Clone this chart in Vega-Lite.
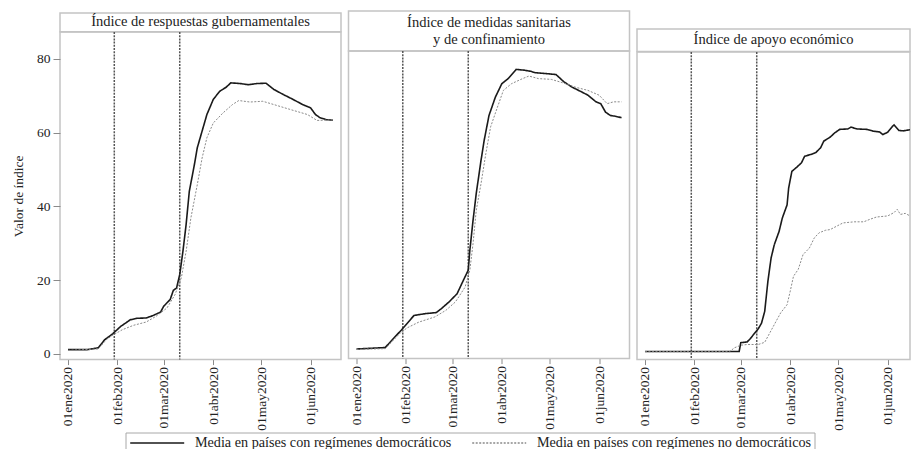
{
  "$schema": "https://vega.github.io/schema/vega-lite/v6.json",
  "background": "white",
  "padding": {"left": 10, "top": 10, "right": 0, "bottom": 0},
  "config": {
    "font": "Liberation Serif",
    "view": {"stroke": "#c4c4c4", "strokeWidth": 1.5},
    "axis": {"labelFont": "Liberation Serif", "titleFont": "Liberation Serif", "labelFontSize": 13.5, "titleFontSize": 13.5, "titleFontWeight": "normal", "labelColor": "#222", "titleColor": "#222", "tickColor": "#8a8a8a", "domain": false, "grid": false},
    "legend": {"orient": "none", "legendX": 65.5, "legendY": 421.5, "direction": "horizontal", "columns": 2, "symbolType": "M-5,0H5", "symbolSize": 116.6, "symbolOffset": 21.6, "symbolStrokeWidth": 1.6, "labelFont": "Liberation Serif", "labelFontSize": 14.2, "labelColor": "#222", "labelLimit": 0, "labelOffset": 30.6, "strokeColor": "#a8a8a8", "padding": 3, "columnPadding": 17}
  },
  "datasets": {
    "lines": [
      {"p":"A","s":"D","d":"2020-01-01","v":1.1},{"p":"A","s":"D","d":"2020-01-13","v":1.1},{"p":"A","s":"D","d":"2020-01-20","v":1.6},{"p":"A","s":"D","d":"2020-01-24","v":3.8},{"p":"A","s":"D","d":"2020-01-29","v":5.4},{"p":"A","s":"D","d":"2020-02-03","v":7.4},{"p":"A","s":"D","d":"2020-02-09","v":9.2},{"p":"A","s":"D","d":"2020-02-13","v":9.6},{"p":"A","s":"D","d":"2020-02-19","v":9.7},{"p":"A","s":"D","d":"2020-02-23","v":10.3},{"p":"A","s":"D","d":"2020-02-28","v":11.3},{"p":"A","s":"D","d":"2020-03-01","v":12.9},{"p":"A","s":"D","d":"2020-03-05","v":14.7},{"p":"A","s":"D","d":"2020-03-07","v":17.2},{"p":"A","s":"D","d":"2020-03-09","v":17.8},{"p":"A","s":"D","d":"2020-03-11","v":21.5},{"p":"A","s":"D","d":"2020-03-13","v":27.8},{"p":"A","s":"D","d":"2020-03-15","v":35.1},{"p":"A","s":"D","d":"2020-03-17","v":44.1},{"p":"A","s":"D","d":"2020-03-20","v":50.9},{"p":"A","s":"D","d":"2020-03-22","v":55.9},{"p":"A","s":"D","d":"2020-03-25","v":60.4},{"p":"A","s":"D","d":"2020-03-28","v":64.9},{"p":"A","s":"D","d":"2020-04-01","v":69.0},{"p":"A","s":"D","d":"2020-04-05","v":71.2},{"p":"A","s":"D","d":"2020-04-09","v":72.3},{"p":"A","s":"D","d":"2020-04-12","v":73.5},{"p":"A","s":"D","d":"2020-04-18","v":73.3},{"p":"A","s":"D","d":"2020-04-23","v":73.0},{"p":"A","s":"D","d":"2020-04-28","v":73.3},{"p":"A","s":"D","d":"2020-05-04","v":73.4},{"p":"A","s":"D","d":"2020-05-09","v":71.7},{"p":"A","s":"D","d":"2020-05-15","v":70.3},{"p":"A","s":"D","d":"2020-05-21","v":69.0},{"p":"A","s":"D","d":"2020-05-27","v":67.6},{"p":"A","s":"D","d":"2020-06-01","v":66.7},{"p":"A","s":"D","d":"2020-06-04","v":64.9},{"p":"A","s":"D","d":"2020-06-07","v":64.0},{"p":"A","s":"D","d":"2020-06-11","v":63.5},{"p":"A","s":"D","d":"2020-06-15","v":63.4},
      {"p":"A","s":"N","d":"2020-01-01","v":0.9},{"p":"A","s":"N","d":"2020-01-20","v":1.3},{"p":"A","s":"N","d":"2020-01-25","v":3.8},{"p":"A","s":"N","d":"2020-01-29","v":5.0},{"p":"A","s":"N","d":"2020-02-04","v":6.5},{"p":"A","s":"N","d":"2020-02-11","v":7.7},{"p":"A","s":"N","d":"2020-02-19","v":8.6},{"p":"A","s":"N","d":"2020-02-25","v":10.1},{"p":"A","s":"N","d":"2020-03-03","v":12.4},{"p":"A","s":"N","d":"2020-03-08","v":16.0},{"p":"A","s":"N","d":"2020-03-12","v":20.6},{"p":"A","s":"N","d":"2020-03-15","v":27.8},{"p":"A","s":"N","d":"2020-03-18","v":36.9},{"p":"A","s":"N","d":"2020-03-22","v":45.9},{"p":"A","s":"N","d":"2020-03-25","v":53.1},{"p":"A","s":"N","d":"2020-03-28","v":58.6},{"p":"A","s":"N","d":"2020-04-01","v":62.6},{"p":"A","s":"N","d":"2020-04-07","v":65.3},{"p":"A","s":"N","d":"2020-04-13","v":67.6},{"p":"A","s":"N","d":"2020-04-17","v":68.7},{"p":"A","s":"N","d":"2020-04-24","v":68.3},{"p":"A","s":"N","d":"2020-05-02","v":68.5},{"p":"A","s":"N","d":"2020-05-09","v":67.6},{"p":"A","s":"N","d":"2020-05-19","v":66.3},{"p":"A","s":"N","d":"2020-05-30","v":64.9},{"p":"A","s":"N","d":"2020-06-05","v":63.3},{"p":"A","s":"N","d":"2020-06-11","v":63.4},{"p":"A","s":"N","d":"2020-06-15","v":63.5},
      {"p":"B","s":"D","d":"2020-01-01","v":1.0},{"p":"B","s":"D","d":"2020-01-19","v":1.4},{"p":"B","s":"D","d":"2020-01-24","v":3.8},{"p":"B","s":"D","d":"2020-01-29","v":6.1},{"p":"B","s":"D","d":"2020-02-01","v":7.6},{"p":"B","s":"D","d":"2020-02-06","v":10.1},{"p":"B","s":"D","d":"2020-02-13","v":10.6},{"p":"B","s":"D","d":"2020-02-20","v":10.9},{"p":"B","s":"D","d":"2020-02-23","v":11.9},{"p":"B","s":"D","d":"2020-02-28","v":13.8},{"p":"B","s":"D","d":"2020-03-04","v":16.0},{"p":"B","s":"D","d":"2020-03-08","v":19.7},{"p":"B","s":"D","d":"2020-03-11","v":22.4},{"p":"B","s":"D","d":"2020-03-12","v":27.8},{"p":"B","s":"D","d":"2020-03-14","v":35.9},{"p":"B","s":"D","d":"2020-03-16","v":43.2},{"p":"B","s":"D","d":"2020-03-19","v":52.2},{"p":"B","s":"D","d":"2020-03-21","v":57.7},{"p":"B","s":"D","d":"2020-03-24","v":64.4},{"p":"B","s":"D","d":"2020-03-28","v":69.4},{"p":"B","s":"D","d":"2020-04-01","v":73.0},{"p":"B","s":"D","d":"2020-04-05","v":74.4},{"p":"B","s":"D","d":"2020-04-10","v":76.9},{"p":"B","s":"D","d":"2020-04-15","v":76.7},{"p":"B","s":"D","d":"2020-04-19","v":76.4},{"p":"B","s":"D","d":"2020-04-22","v":76.0},{"p":"B","s":"D","d":"2020-04-28","v":75.8},{"p":"B","s":"D","d":"2020-05-05","v":75.5},{"p":"B","s":"D","d":"2020-05-10","v":73.5},{"p":"B","s":"D","d":"2020-05-15","v":72.1},{"p":"B","s":"D","d":"2020-05-21","v":70.8},{"p":"B","s":"D","d":"2020-05-25","v":69.9},{"p":"B","s":"D","d":"2020-05-30","v":68.1},{"p":"B","s":"D","d":"2020-06-02","v":67.6},{"p":"B","s":"D","d":"2020-06-05","v":65.3},{"p":"B","s":"D","d":"2020-06-08","v":64.4},{"p":"B","s":"D","d":"2020-06-11","v":64.2},{"p":"B","s":"D","d":"2020-06-15","v":63.8},
      {"p":"B","s":"N","d":"2020-01-01","v":0.9},{"p":"B","s":"N","d":"2020-01-19","v":1.1},{"p":"B","s":"N","d":"2020-01-29","v":5.6},{"p":"B","s":"N","d":"2020-02-02","v":6.8},{"p":"B","s":"N","d":"2020-02-09","v":8.3},{"p":"B","s":"N","d":"2020-02-19","v":9.7},{"p":"B","s":"N","d":"2020-02-26","v":11.5},{"p":"B","s":"N","d":"2020-03-03","v":13.8},{"p":"B","s":"N","d":"2020-03-09","v":17.8},{"p":"B","s":"N","d":"2020-03-12","v":22.4},{"p":"B","s":"N","d":"2020-03-14","v":29.6},{"p":"B","s":"N","d":"2020-03-16","v":38.6},{"p":"B","s":"N","d":"2020-03-19","v":45.9},{"p":"B","s":"N","d":"2020-03-22","v":54.0},{"p":"B","s":"N","d":"2020-03-25","v":61.3},{"p":"B","s":"N","d":"2020-03-29","v":66.3},{"p":"B","s":"N","d":"2020-04-02","v":71.2},{"p":"B","s":"N","d":"2020-04-07","v":73.0},{"p":"B","s":"N","d":"2020-04-14","v":74.4},{"p":"B","s":"N","d":"2020-04-18","v":75.1},{"p":"B","s":"N","d":"2020-04-24","v":74.4},{"p":"B","s":"N","d":"2020-05-02","v":74.2},{"p":"B","s":"N","d":"2020-05-09","v":73.3},{"p":"B","s":"N","d":"2020-05-17","v":72.1},{"p":"B","s":"N","d":"2020-05-25","v":71.2},{"p":"B","s":"N","d":"2020-06-01","v":69.9},{"p":"B","s":"N","d":"2020-06-06","v":67.6},{"p":"B","s":"N","d":"2020-06-10","v":68.1},{"p":"B","s":"N","d":"2020-06-15","v":68.1},
      {"p":"C","s":"D","d":"2020-01-01","v":0.6},{"p":"C","s":"D","d":"2020-02-29","v":0.6},{"p":"C","s":"D","d":"2020-03-01","v":3.0},{"p":"C","s":"D","d":"2020-03-05","v":3.2},{"p":"C","s":"D","d":"2020-03-07","v":4.1},{"p":"C","s":"D","d":"2020-03-09","v":5.2},{"p":"C","s":"D","d":"2020-03-12","v":6.8},{"p":"C","s":"D","d":"2020-03-14","v":8.3},{"p":"C","s":"D","d":"2020-03-16","v":11.5},{"p":"C","s":"D","d":"2020-03-18","v":19.7},{"p":"C","s":"D","d":"2020-03-20","v":26.0},{"p":"C","s":"D","d":"2020-03-22","v":29.6},{"p":"C","s":"D","d":"2020-03-25","v":33.2},{"p":"C","s":"D","d":"2020-03-27","v":36.8},{"p":"C","s":"D","d":"2020-03-30","v":40.4},{"p":"C","s":"D","d":"2020-03-31","v":45.0},{"p":"C","s":"D","d":"2020-04-02","v":49.5},{"p":"C","s":"D","d":"2020-04-05","v":50.6},{"p":"C","s":"D","d":"2020-04-08","v":51.8},{"p":"C","s":"D","d":"2020-04-10","v":53.6},{"p":"C","s":"D","d":"2020-04-14","v":54.1},{"p":"C","s":"D","d":"2020-04-17","v":54.6},{"p":"C","s":"D","d":"2020-04-20","v":55.9},{"p":"C","s":"D","d":"2020-04-22","v":57.7},{"p":"C","s":"D","d":"2020-04-26","v":58.8},{"p":"C","s":"D","d":"2020-04-29","v":60.0},{"p":"C","s":"D","d":"2020-05-02","v":60.9},{"p":"C","s":"D","d":"2020-05-07","v":61.0},{"p":"C","s":"D","d":"2020-05-09","v":61.5},{"p":"C","s":"D","d":"2020-05-13","v":61.0},{"p":"C","s":"D","d":"2020-05-19","v":60.9},{"p":"C","s":"D","d":"2020-05-23","v":60.4},{"p":"C","s":"D","d":"2020-05-27","v":60.2},{"p":"C","s":"D","d":"2020-05-29","v":59.5},{"p":"C","s":"D","d":"2020-06-01","v":60.1},{"p":"C","s":"D","d":"2020-06-04","v":61.7},{"p":"C","s":"D","d":"2020-06-05","v":62.1},{"p":"C","s":"D","d":"2020-06-08","v":60.6},{"p":"C","s":"D","d":"2020-06-11","v":60.5},{"p":"C","s":"D","d":"2020-06-15","v":60.8},
      {"p":"C","s":"N","d":"2020-01-01","v":0.55},{"p":"C","s":"N","d":"2020-02-23","v":0.55},{"p":"C","s":"N","d":"2020-02-26","v":1.6},{"p":"C","s":"N","d":"2020-03-01","v":2.3},{"p":"C","s":"N","d":"2020-03-05","v":2.5},{"p":"C","s":"N","d":"2020-03-12","v":2.5},{"p":"C","s":"N","d":"2020-03-16","v":3.1},{"p":"C","s":"N","d":"2020-03-18","v":4.7},{"p":"C","s":"N","d":"2020-03-22","v":7.9},{"p":"C","s":"N","d":"2020-03-26","v":11.1},{"p":"C","s":"N","d":"2020-03-30","v":13.3},{"p":"C","s":"N","d":"2020-04-01","v":17.0},{"p":"C","s":"N","d":"2020-04-03","v":21.0},{"p":"C","s":"N","d":"2020-04-06","v":22.9},{"p":"C","s":"N","d":"2020-04-09","v":26.9},{"p":"C","s":"N","d":"2020-04-13","v":28.7},{"p":"C","s":"N","d":"2020-04-16","v":31.4},{"p":"C","s":"N","d":"2020-04-19","v":32.8},{"p":"C","s":"N","d":"2020-04-23","v":33.5},{"p":"C","s":"N","d":"2020-04-26","v":33.7},{"p":"C","s":"N","d":"2020-04-30","v":34.6},{"p":"C","s":"N","d":"2020-05-04","v":35.5},{"p":"C","s":"N","d":"2020-05-11","v":35.8},{"p":"C","s":"N","d":"2020-05-17","v":35.8},{"p":"C","s":"N","d":"2020-05-21","v":36.5},{"p":"C","s":"N","d":"2020-05-25","v":37.1},{"p":"C","s":"N","d":"2020-06-01","v":37.4},{"p":"C","s":"N","d":"2020-06-05","v":38.3},{"p":"C","s":"N","d":"2020-06-07","v":39.2},{"p":"C","s":"N","d":"2020-06-09","v":37.8},{"p":"C","s":"N","d":"2020-06-12","v":38.1},{"p":"C","s":"N","d":"2020-06-15","v":37.4}
    ],
    "ev": [{"d": "2020-01-30"}, {"d": "2020-03-11"}]
  },
  "spacing": 5.5,
  "hconcat": [
    {
      "spacing": 0,
      "bounds": "flush",
      "vconcat": [
        {"width": 281, "height": 1.3, "data": {"values": []}, "mark": {"type": "text", "text": ""}, "encoding": {}, "view": {"stroke": null}},
        {"width": 281, "height": 18.7, "view": {"stroke": "#c4c4c4", "strokeWidth": 1.5}, "data": {"values": [{"t": "Índice de respuestas gubernamentales", "x": 0.5, "y": 0.5}]}, "mark": {"type": "text", "font": "Liberation Serif", "fontSize": 14.5, "color": "#222"}, "encoding": {"text": {"field": "t"}, "x": {"field": "x", "type": "quantitative", "scale": {"domain": [0, 1]}, "axis": null}, "y": {"field": "y", "type": "quantitative", "scale": {"domain": [0, 1]}, "axis": null}}},
        {
          "width": 281, "height": 327.6,
          "layer": [
            {"data": {"name": "ev"}, "mark": {"type": "rule", "color": "#555", "strokeWidth": 1.5, "strokeDash": [2, 1.2]}, "encoding": {"x": {"field": "d", "type": "temporal"}}},
            {
              "data": {"name": "lines"}, "transform": [{"filter": "datum.p == 'A'"}],
              "mark": {"type": "line", "clip": true},
              "encoding": {
                "x": {"field": "d", "type": "temporal", "scale": {"type": "utc", "domain": [{"year": 2019, "month": 12, "date": 27, "utc": true}, {"year": 2020, "month": 6, "date": 20, "utc": true}]},
                  "axis": {"title": null, "values": [{"year": 2020, "month": 1, "date": 1, "utc": true}, {"year": 2020, "month": 2, "date": 1, "utc": true}, {"year": 2020, "month": 3, "date": 1, "utc": true}, {"year": 2020, "month": 4, "date": 1, "utc": true}, {"year": 2020, "month": 5, "date": 1, "utc": true}, {"year": 2020, "month": 6, "date": 1, "utc": true}], "labelAngle": -90, "labelAlign": "right", "labelBaseline": "middle", "tickSize": 5, "labelPadding": 2, "labelExpr": "'01' + ['ene','feb','mar','abr','may','jun'][utcmonth(datum.value)] + '2020'"}},
                "y": {"field": "v", "type": "quantitative", "scale": {"domain": [-1.6, 87.3], "nice": false, "zero": false}, "axis": {"title": "Valor de índice", "values": [0, 20, 40, 60, 80], "tickSize": 7, "labelPadding": 3, "titlePadding": 11}},
                "color": {"field": "s", "type": "nominal", "scale": {"domain": ["D", "N"], "range": ["#1a1a1a", "#8a8a8a"]}, "legend": {"title": null, "labelExpr": "datum.label == 'D' ? 'Media en países con regímenes democráticos' : 'Media en países con regímenes no democráticos'"}},
                "strokeDash": {"field": "s", "type": "nominal", "scale": {"domain": ["D", "N"], "range": [[1, 0], [2, 1.5]]}, "legend": {"title": null, "labelExpr": "datum.label == 'D' ? 'Media en países con regímenes democráticos' : 'Media en países con regímenes no democráticos'"}},
                "strokeWidth": {"condition": {"test": "datum.s == 'D'", "value": 1.6}, "value": 1}
              }
            }
          ]
        }
      ]
    },
    {
      "spacing": 0,
      "bounds": "flush",
      "vconcat": [
        {"width": 281, "height": 40, "view": {"stroke": "#c4c4c4", "strokeWidth": 1.5}, "data": {"values": [{"t": "Índice de medidas sanitarias\ny de confinamiento", "x": 0.5, "y": 0.5}]}, "mark": {"type": "text", "font": "Liberation Serif", "fontSize": 14.5, "color": "#222", "lineBreak": "\n", "lineHeight": 17, "dy": -8.5}, "encoding": {"text": {"field": "t"}, "x": {"field": "x", "type": "quantitative", "scale": {"domain": [0, 1]}, "axis": null}, "y": {"field": "y", "type": "quantitative", "scale": {"domain": [0, 1]}, "axis": null}}},
        {
          "width": 281, "height": 307.6,
          "layer": [
            {"data": {"name": "ev"}, "mark": {"type": "rule", "color": "#555", "strokeWidth": 1.5, "strokeDash": [2, 1.2]}, "encoding": {"x": {"field": "d", "type": "temporal"}}},
            {
              "data": {"name": "lines"}, "transform": [{"filter": "datum.p == 'B'"}],
              "mark": {"type": "line", "clip": true},
              "encoding": {
                "x": {"field": "d", "type": "temporal", "scale": {"type": "utc", "domain": [{"year": 2019, "month": 12, "date": 27, "utc": true}, {"year": 2020, "month": 6, "date": 20, "utc": true}]},
                  "axis": {"title": null, "values": [{"year": 2020, "month": 1, "date": 1, "utc": true}, {"year": 2020, "month": 2, "date": 1, "utc": true}, {"year": 2020, "month": 3, "date": 1, "utc": true}, {"year": 2020, "month": 4, "date": 1, "utc": true}, {"year": 2020, "month": 5, "date": 1, "utc": true}, {"year": 2020, "month": 6, "date": 1, "utc": true}], "labelAngle": -90, "labelAlign": "right", "labelBaseline": "middle", "tickSize": 5, "labelPadding": 2, "labelExpr": "'01' + ['ene','feb','mar','abr','may','jun'][utcmonth(datum.value)] + '2020'"}},
                "y": {"field": "v", "type": "quantitative", "scale": {"domain": [-1.6, 81.9], "nice": false, "zero": false}, "axis": null},
                "color": {"field": "s", "type": "nominal", "scale": {"domain": ["D", "N"], "range": ["#1a1a1a", "#8a8a8a"]}, "legend": {"title": null, "labelExpr": "datum.label == 'D' ? 'Media en países con regímenes democráticos' : 'Media en países con regímenes no democráticos'"}},
                "strokeDash": {"field": "s", "type": "nominal", "scale": {"domain": ["D", "N"], "range": [[1, 0], [2, 1.5]]}, "legend": {"title": null, "labelExpr": "datum.label == 'D' ? 'Media en países con regímenes democráticos' : 'Media en países con regímenes no democráticos'"}},
                "strokeWidth": {"condition": {"test": "datum.s == 'D'", "value": 1.6}, "value": 1}
              }
            }
          ]
        }
      ]
    },
    {
      "spacing": 0,
      "bounds": "flush",
      "vconcat": [
        {"width": 273, "height": 17.6, "data": {"values": []}, "mark": {"type": "text", "text": ""}, "encoding": {}, "view": {"stroke": null}},
        {"width": 273, "height": 22.4, "view": {"stroke": "#c4c4c4", "strokeWidth": 1.5}, "data": {"values": [{"t": "Índice de apoyo económico", "x": 0.5, "y": 0.5}]}, "mark": {"type": "text", "font": "Liberation Serif", "fontSize": 14.5, "color": "#222"}, "encoding": {"text": {"field": "t"}, "x": {"field": "x", "type": "quantitative", "scale": {"domain": [0, 1]}, "axis": null}, "y": {"field": "y", "type": "quantitative", "scale": {"domain": [0, 1]}, "axis": null}}},
        {
          "width": 273, "height": 307.6,
          "layer": [
            {"data": {"name": "ev"}, "mark": {"type": "rule", "color": "#555", "strokeWidth": 1.5, "strokeDash": [2, 1.2]}, "encoding": {"x": {"field": "d", "type": "temporal"}}},
            {
              "data": {"name": "lines"}, "transform": [{"filter": "datum.p == 'C'"}],
              "mark": {"type": "line", "clip": true},
              "encoding": {
                "x": {"field": "d", "type": "temporal", "scale": {"type": "utc", "domain": [{"year": 2019, "month": 12, "date": 27, "utc": true}, {"year": 2020, "month": 6, "date": 15, "utc": true}]},
                  "axis": {"title": null, "values": [{"year": 2020, "month": 1, "date": 1, "utc": true}, {"year": 2020, "month": 2, "date": 1, "utc": true}, {"year": 2020, "month": 3, "date": 1, "utc": true}, {"year": 2020, "month": 4, "date": 1, "utc": true}, {"year": 2020, "month": 5, "date": 1, "utc": true}, {"year": 2020, "month": 6, "date": 1, "utc": true}], "labelAngle": -90, "labelAlign": "right", "labelBaseline": "middle", "tickSize": 5, "labelPadding": 2, "labelExpr": "'01' + ['ene','feb','mar','abr','may','jun'][utcmonth(datum.value)] + '2020'"}},
                "y": {"field": "v", "type": "quantitative", "scale": {"domain": [-1.6, 81.9], "nice": false, "zero": false}, "axis": null},
                "color": {"field": "s", "type": "nominal", "scale": {"domain": ["D", "N"], "range": ["#1a1a1a", "#8a8a8a"]}, "legend": {"title": null, "labelExpr": "datum.label == 'D' ? 'Media en países con regímenes democráticos' : 'Media en países con regímenes no democráticos'"}},
                "strokeDash": {"field": "s", "type": "nominal", "scale": {"domain": ["D", "N"], "range": [[1, 0], [2, 1.5]]}, "legend": {"title": null, "labelExpr": "datum.label == 'D' ? 'Media en países con regímenes democráticos' : 'Media en países con regímenes no democráticos'"}},
                "strokeWidth": {"condition": {"test": "datum.s == 'D'", "value": 1.6}, "value": 1}
              }
            }
          ]
        }
      ]
    }
  ],
  "resolve": {"scale": {"x": "independent", "y": "independent"}}
}
